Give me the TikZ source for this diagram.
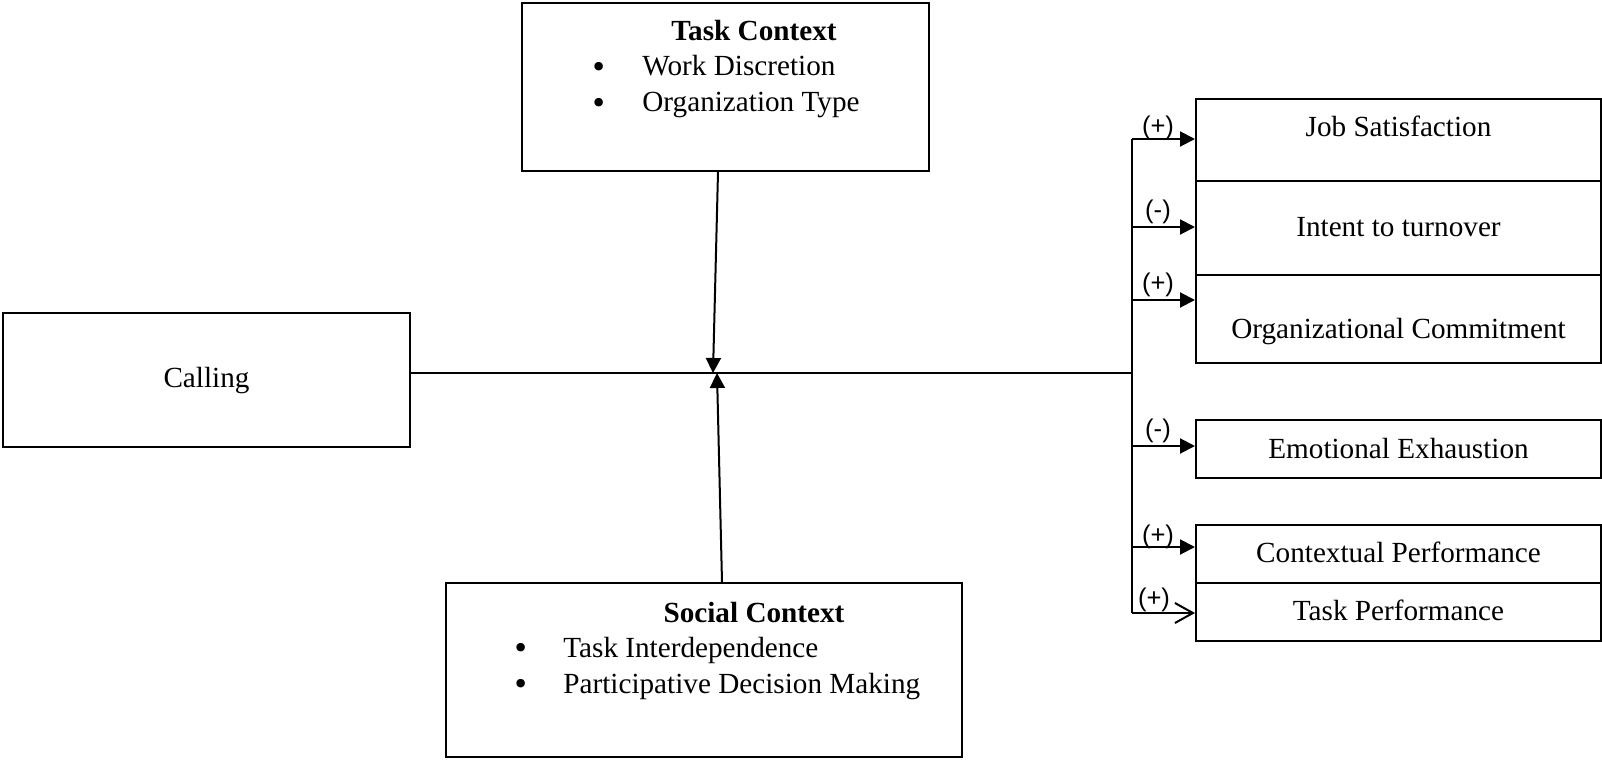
\documentclass[tikz,border=0pt]{standalone}
\usepackage{fontspec}
\setmainfont{Liberation Serif}
\newfontfamily\labfont{Liberation Sans}
\newfontfamily\bulfont{DejaVu Sans}
\usetikzlibrary{arrows.meta,calc}
\begin{document}
\begin{tikzpicture}[x=0.5pt,y=-0.5pt,
  box/.style={draw, line width=1pt, inner sep=0pt},
  txt/.style={font=\fontsize{14.6}{17}\selectfont, inner sep=0pt, text height=0.66em, text depth=0pt},
  ttl/.style={txt, font=\fontsize{14.6}{17}\selectfont\bfseries},
  bul/.style={font=\bulfont\fontsize{14.6}{17}\selectfont, inner sep=0pt},
  lab/.style={font=\labfont\fontsize{12.8}{14}\selectfont, inner sep=0pt},
  conn/.style={line width=1pt},
  arr/.style={line width=1pt, -{Triangle[length=7.5pt,width=7.5pt]}},
  oarr/.style={line width=1pt, -{Straight Barb[length=9pt,width=10pt]}}]
\useasboundingbox (0,0) rectangle (1602,760);

% boxes
\node[box, minimum width=203.5pt, minimum height=67pt] (call) at (206.5,380) {};
\node[box, minimum width=203.5pt, minimum height=84pt] (tc) at (725.5,87) {};
\node[box, minimum width=258pt, minimum height=87pt] (sc) at (704,670) {};
\node[box, minimum width=202.5pt, minimum height=41pt] (js) at (1398.5,140) {};
\node[box, minimum width=202.5pt, minimum height=47pt] (it) at (1398.5,228) {};
\node[box, minimum width=202.5pt, minimum height=44pt] (oc) at (1398.5,319) {};
\node[box, minimum width=202.5pt, minimum height=29pt] (ee) at (1398.5,449) {};
\node[box, minimum width=202.5pt, minimum height=29pt] (cp) at (1398.5,554) {};
\node[box, minimum width=202.5pt, minimum height=29pt] (tp) at (1398.5,612) {};

% texts
\node[txt] (callT) at (206.5,381) {Calling};
\node[ttl] (tcT) at (754,34) {Task Context};
\node[bul] (tcB1) at (599,69.5) {•};
\node[txt, anchor=west] (tcI1) at (642,69) {Work Discretion};
\node[bul] (tcB2) at (599,106) {•};
\node[txt, anchor=west] (tcI2) at (642,105) {Organization Type};
\node[ttl] (scT) at (754,616) {Social Context};
\node[bul] (scB1) at (521,650.5) {•};
\node[txt, anchor=west] (scI1) at (563,651) {Task Interdependence};
\node[bul] (scB2) at (521,686.5) {•};
\node[txt, anchor=west] (scI2) at (563,687) {Participative Decision Making};
\node[txt] (jsT) at (1398.5,130) {Job Satisfaction};
\node[txt] (itT) at (1398.5,230) {Intent to turnover};
\node[txt] (ocT) at (1398.5,332) {Organizational Commitment};
\node[txt] (eeT) at (1398.5,452) {Emotional Exhaustion};
\node[txt] (cpT) at (1398.5,556) {Contextual Performance};
\node[txt] (tpT) at (1398.5,614) {Task Performance};

% bus coordinates
\coordinate (hub) at (715,373);
\coordinate (bm) at (1132,373);
\coordinate (a1) at (1132,139);
\coordinate (a2) at (1132,227);
\coordinate (a3) at (1132,300);
\coordinate (a4) at (1132,446);
\coordinate (a5) at (1132,547);
\coordinate (a6) at (1132,613);

% connectors
\draw[conn] (call.east |- bm) -- (bm);
\draw[conn] (a1) -- (a6);
\draw[arr] ($(tc.south)+(-7.5,0)$) -- ($(hub)+(-2,0)$);
\draw[arr] ($(sc.north)+(18,0)$) -- ($(hub)+(2,0)$);
\draw[arr] (a1) -- (a1 -| js.west);
\draw[arr] (a2) -- (a2 -| it.west);
\draw[arr] (a3) -- (a3 -| oc.west);
\draw[arr] (a4) -- (a4 -| ee.west);
\draw[arr] (a5) -- (a5 -| cp.west);
\draw[oarr] (a6) -- (a6 -| tp.west);

% labels
\node[lab] (l1) at (1158,128) {(+)};
\node[lab] (l2) at (1158,212) {(-)};
\node[lab] (l3) at (1158,285) {(+)};
\node[lab] (l4) at (1158,431) {(-)};
\node[lab] (l5) at (1158,537) {(+)};
\node[lab] (l6) at (1154,600) {(+)};
\end{tikzpicture}
\end{document}
